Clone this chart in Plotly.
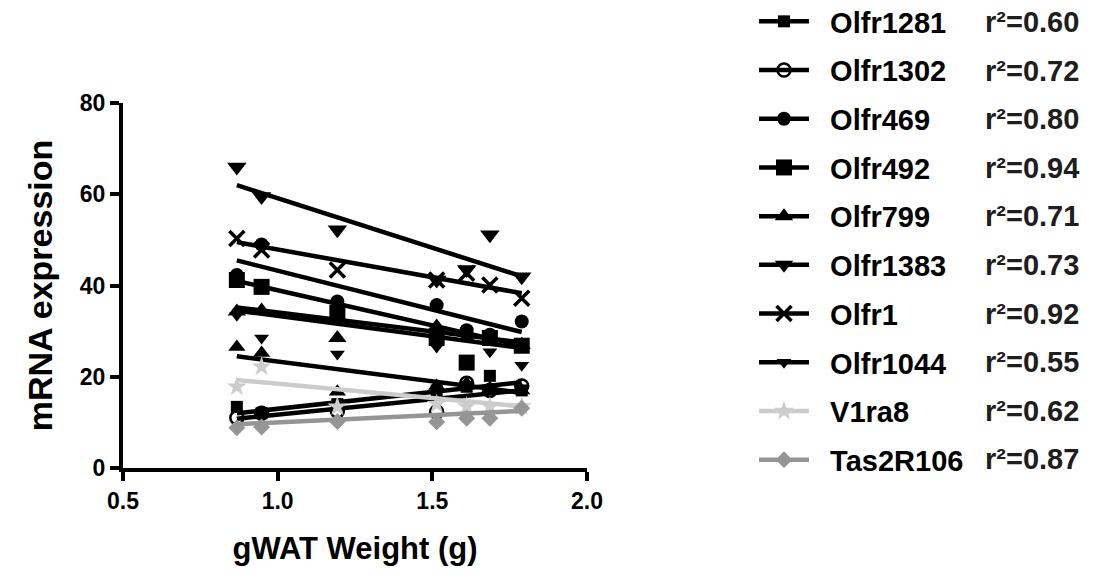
import plotly.graph_objects as go

# ---------------- data ----------------
gwat_weight = [0.868, 0.948, 1.193, 1.514, 1.611, 1.686, 1.789]

genes = ["Olfr1281", "Olfr1302", "Olfr469", "Olfr492", "Olfr799",
         "Olfr1383", "Olfr1", "Olfr1044", "V1ra8", "Tas2R106"]
r_squared = ["0.60", "0.72", "0.80", "0.94", "0.71",
             "0.73", "0.92", "0.55", "0.62", "0.87"]

olfr1281 = [13.4, 12.0, 14.0, 17.0, 17.8, 20.2, 17.0]
olfr1302 = [11.0, 12.0, 12.5, 12.3, 18.6, 17.0, 18.0]
olfr469 = [42.3, 49.0, 36.5, 35.7, 30.2, 29.2, 32.1]
olfr492 = [41.2, 39.7, 34.0, 28.5, 23.1, 28.5, 26.8]
olfr799 = [34.3, 34.5, 28.5, 31.0, 28.5, 28.0, 27.0]
olfr1383 = [66.0, 59.5, 52.2, 41.2, 43.5, 51.1, 41.9]
olfr1 = [50.3, 47.8, 43.4, 41.2, 42.7, 40.1, 37.2]
olfr1044 = [33.5, 28.5, 25.0, 26.5, 24.0, 25.5, 22.5]
v1ra8 = [17.8, 22.2, 13.4, 14.0, 13.5, 13.5, 13.5]
tas2r106 = [8.8, 9.0, 10.2, 10.1, 10.9, 10.9, 13.1]
# an additional triangle data set drawn in the panel without a legend entry
unlabeled_set = [26.5, 25.2, 16.7, 18.0, 18.5, 17.5, 17.0]

series_values = [olfr1281, olfr1302, olfr469, olfr492, olfr799,
                 olfr1383, olfr1, olfr1044, v1ra8, tas2r106]

# linear-regression lines (value at lowest / highest weight)
fit_start = [12.0, 10.8, 45.5, 41.0, 35.2, 62.0, 49.5, 34.5, 19.3, 9.6]
fit_end = [18.8, 17.0, 29.8, 26.8, 27.5, 42.0, 38.3, 26.3, 13.5, 12.5]
unlabeled_fit = [24.5, 16.5]

# ---------------- styles ----------------
styles = {
    "Olfr1281": dict(symbol="square", size=12, color="black", lw=0),
    "Olfr1302": dict(symbol="circle-open", size=13, color="black", lw=2.5),
    "Olfr469": dict(symbol="circle", size=14, color="black", lw=0),
    "Olfr492": dict(symbol="square", size=16, color="black", lw=0),
    "Olfr799": dict(symbol="triangle-up", size=16, color="black", lw=0),
    "Olfr1383": dict(symbol="triangle-down", size=17, color="black", lw=0),
    "Olfr1": dict(symbol="x-thin-open", size=15, color="black", lw=3.5),
    "Olfr1044": dict(symbol="triangle-down", size=13, color="black", lw=0),
    "V1ra8": dict(symbol="star", size=15, color="#cccccc", lw=0),
    "Tas2R106": dict(symbol="diamond", size=13, color="#959595", lw=0),
}

FONT = "Liberation Sans, Arial, sans-serif"
LEG_SIZE = 29
LINE_W = 4.5

fig = go.Figure()

# unlabeled set (drawn first, underneath)
fig.add_trace(go.Scatter(x=gwat_weight, y=unlabeled_set, mode="markers",
                         marker=dict(symbol="triangle-up", size=15, color="black"),
                         showlegend=False, hoverinfo="skip"))
fig.add_trace(go.Scatter(x=[gwat_weight[0], gwat_weight[-1]], y=unlabeled_fit,
                         mode="lines", line=dict(color="black", width=LINE_W),
                         showlegend=False, hoverinfo="skip"))

for name, vals, y0, y1 in zip(genes, series_values, fit_start, fit_end):
    st = styles[name]
    mk = dict(symbol=st["symbol"], size=st["size"], color=st["color"],
              line=dict(color=st["color"], width=st["lw"]))
    fig.add_trace(go.Scatter(x=gwat_weight, y=vals, mode="markers", marker=mk,
                             legendgroup=name, showlegend=False, name=name))
    fig.add_trace(go.Scatter(x=[gwat_weight[0], gwat_weight[-1]], y=[y0, y1],
                             mode="lines", line=dict(color=st["color"], width=LINE_W),
                             legendgroup=name, showlegend=False, name=name))
    fig.add_trace(go.Scatter(x=[None], y=[None], mode="lines+markers",
                             marker=mk, line=dict(color=st["color"], width=LINE_W),
                             legendgroup=name, showlegend=True,
                             name="\u00a0\u00a0" + name))

W, H = 1112, 575
L, R, T, B = 123, 587, 103, 468
ROW0, ROWSTEP = 22, 48.6

# r-squared column next to the legend
for i, r2 in enumerate(r_squared):
    fig.add_annotation(x=(983 - L) / (R - L), y=(B - (ROW0 + i * ROWSTEP)) / (B - T),
                       xref="x domain", yref="y domain",
                       text="r\u00b2=" + r2, showarrow=False, xanchor="left", yanchor="middle",
                       font=dict(size=LEG_SIZE, family=FONT, weight="bold", color="#1e1e1e"))

fig.update_layout(
    width=W, height=H,
    margin=dict(l=L, r=W - R, t=T, b=H - B, pad=0, autoexpand=False),
    paper_bgcolor="white", plot_bgcolor="white",
    font=dict(family=FONT, color="black"),
    showlegend=True,
    legend=dict(x=(754 - L) / (R - L), y=1 + (T + 4) / (B - T), xanchor="left", yanchor="top",
                font=dict(size=LEG_SIZE, family=FONT, weight="bold"),
                tracegroupgap=8, itemwidth=50, bgcolor="rgba(0,0,0,0)", maxheight=1.0),
    xaxis=dict(range=[0.5, 2.0], tickvals=[0.5, 1.0, 1.5, 2.0],
               ticktext=["0.5", "1.0", "1.5", "2.0"],
               showline=True, linecolor="black", linewidth=4, mirror=False,
               ticks="outside", ticklen=9, tickwidth=4, tickcolor="black",
               showgrid=False, zeroline=False,
               tickfont=dict(size=23, family=FONT, weight="bold"),
               title=dict(text="gWAT Weight (g)", standoff=26,
                          font=dict(size=31, family=FONT, weight="bold"))),
    yaxis=dict(range=[0, 80], tickvals=[0, 20, 40, 60, 80],
               showline=True, linecolor="black", linewidth=4, mirror=False,
               ticks="outside", ticklen=9, tickwidth=4, tickcolor="black",
               showgrid=False, zeroline=False,
               tickfont=dict(size=23, family=FONT, weight="bold"),
               title=dict(text="mRNA expression", standoff=18,
                          font=dict(size=34, family=FONT, weight="bold"))),
)

fig.write_html("out.html")
